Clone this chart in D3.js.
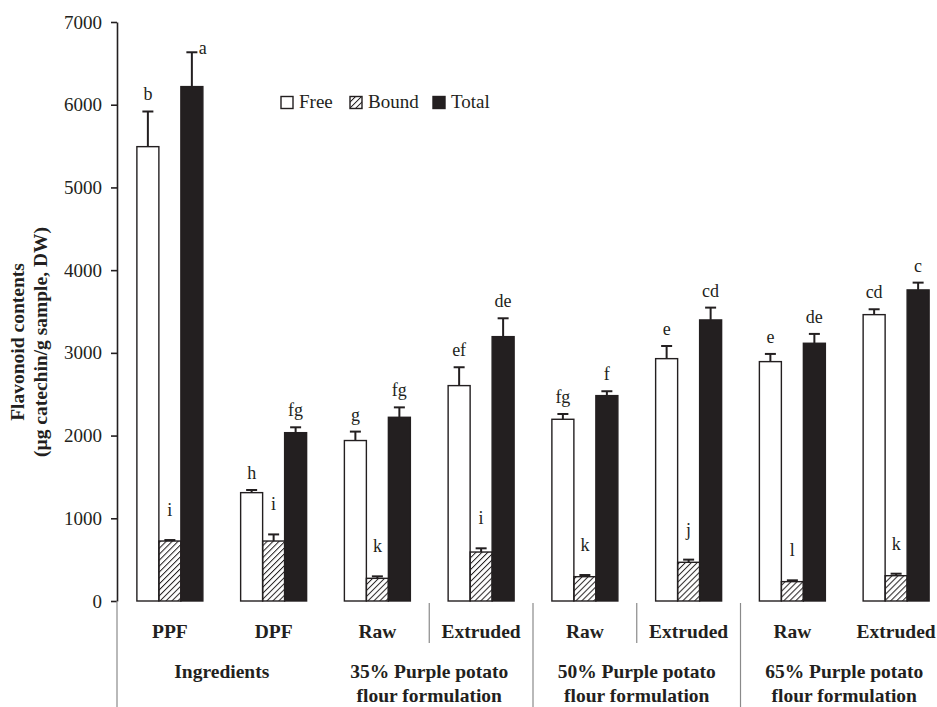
<!DOCTYPE html>
<html>
<head>
<meta charset="utf-8">
<script src="https://cdn.jsdelivr.net/npm/d3@7"></script>
<style>
  body { margin: 0; background: #fff; }
  text { font-family: "Liberation Serif", "Times New Roman", serif; fill: #231f20; }
</style>
</head>
<body>
<script>
// Data
const categories = ["PPF", "DPF", "Raw", "Extruded", "Raw", "Extruded", "Raw", "Extruded"];
const groupNames = [
    ["Ingredients"],
    ["35% Purple potato", "flour formulation"],
    ["50% Purple potato", "flour formulation"],
    ["65% Purple potato", "flour formulation"]
];
const seriesNames = ["Free", "Bound", "Total"];

const freeValues  = [5493, 1310, 1940, 2604, 2197, 2930, 2894, 3462];
const freeErr     = [425, 32, 108, 222, 64, 153, 93, 65];
const boundValues = [725, 725, 274, 592, 294, 468, 234, 306];
const boundErr    = [12, 80, 24, 45, 20, 32, 16, 24];
const totalValues = [6219, 2035, 2221, 3196, 2483, 3398, 3116, 3761];
const totalErr    = [415, 65, 120, 222, 53, 149, 113, 88];

const freeLetters  = ["b", "h", "g", "ef", "fg", "e", "e", "cd"];
const boundLetters = ["i", "i", "k", "i", "k", "j", "l", "k"];
const totalLetters = ["a", "fg", "fg", "de", "f", "cd", "de", "c"];

const yTicks = [0, 1000, 2000, 3000, 4000, 5000, 6000, 7000];

// Main
const svgwidth = 937;
const svgheight = 707;
const ink = "#231f20";
const grey = "#8a8a8a";

let svg = d3.select("body").append("svg")
    .attr("width", svgwidth)
    .attr("height", svgheight);

// hatch for the Bound bars
let defs = svg.append("defs");
defs.append("pattern")
    .attr("id", "hatch")
    .attr("patternUnits", "userSpaceOnUse")
    .attr("width", 4.2)
    .attr("height", 4.2)
    .attr("patternTransform", "rotate(45)")
  .append("line")
    .attr("x1", 0).attr("y1", 0)
    .attr("x2", 0).attr("y2", 4.2)
    .attr("stroke", ink)
    .attr("stroke-width", 2);

const axisX = 117;
let yScale = d3.scaleLinear().domain([0, 7000]).range([601, 22]);
let xScale = d3.scaleBand()
    .domain(d3.range(categories.length))
    .range([118, 948])
    .paddingInner(0.364)
    .paddingOuter(0.182);
let xSub = d3.scaleBand()
    .domain(seriesNames)
    .range([0, xScale.bandwidth()]);

let rows = categories.map((c, i) => [
    {series: "Free", value: freeValues[i], err: freeErr[i], letter: freeLetters[i], i: i},
    {series: "Bound", value: boundValues[i], err: boundErr[i], letter: boundLetters[i], i: i},
    {series: "Total", value: totalValues[i], err: totalErr[i], letter: totalLetters[i], i: i}
]).flat();

const fills = {Free: "#fff", Bound: "url(#hatch)", Total: ink};

let bars = svg.append("g");
bars.selectAll("rect")
    .data(rows).enter()
        .append("rect")
    .attr("x", d => xScale(d.i) + xSub(d.series))
    .attr("y", d => yScale(d.value))
    .attr("width", xSub.bandwidth())
    .attr("height", d => yScale(0) - yScale(d.value))
    .attr("fill", d => fills[d.series])
    .attr("stroke", ink)
    .attr("stroke-width", 1.4);

// error bars (upper only)
let errs = svg.append("g").attr("stroke", ink).attr("stroke-width", 2);
rows.forEach(d => {
    let cx = xScale(d.i) + xSub(d.series) + xSub.bandwidth() / 2;
    errs.append("line")
        .attr("x1", cx).attr("x2", cx)
        .attr("y1", yScale(d.value)).attr("y2", yScale(d.value + d.err));
    errs.append("line")
        .attr("x1", cx - 5.5).attr("x2", cx + 5.5)
        .attr("y1", yScale(d.value + d.err)).attr("y2", yScale(d.value + d.err));
});

// significance letters
svg.append("g").selectAll("text")
    .data(rows).enter()
        .append("text")
    .each(function(d) {
        let cx = xScale(d.i) + xSub(d.series) + xSub.bandwidth() / 2;
        let top = yScale(d.value + d.err);
        let sel = d3.select(this);
        if (top - 20 < 40) {
            // no room above the plot top: put it beside the cap
            sel.attr("x", cx + 7).attr("y", top + 2).attr("text-anchor", "start");
        } else {
            let gap = d.series === "Bound" ? 24 : 11;
            sel.attr("x", cx).attr("y", top - gap).attr("text-anchor", "middle");
        }
    })
    .style("font-size", "18px")
    .text(d => d.letter);

// y axis
let yAxis = svg.append("g")
    .attr("transform", `translate(${axisX},0)`)
    .call(d3.axisLeft(yScale).tickValues(yTicks).tickSize(6).tickSizeOuter(0).tickPadding(9).tickFormat(d3.format("d")));
yAxis.select(".domain").attr("stroke", ink).attr("stroke-width", 1.6);
yAxis.selectAll(".tick line").attr("stroke", ink).attr("stroke-width", 1.6);
yAxis.selectAll(".tick text")
    .style("font-family", "'Liberation Serif', serif")
    .style("font-size", "19px")
    .attr("fill", ink);

// y title
let yTitle = svg.append("text")
    .attr("transform", "translate(24,342) rotate(-90)")
    .attr("text-anchor", "middle")
    .style("font-size", "19.5px")
    .style("font-weight", "bold");
yTitle.append("tspan").attr("x", 0).attr("dy", 0).text("Flavonoid contents");
yTitle.append("tspan").attr("x", 0).attr("dy", 23).text("(\u00b5g catechin/g sample, DW)");

// category axis: no baseline, grey dividers below
let below = svg.append("g").attr("stroke", grey).attr("stroke-width", 1.2);
below.append("line")
    .attr("x1", axisX).attr("x2", axisX)
    .attr("y1", yScale(0)).attr("y2", svgheight);
const shortDividers = [3, 5];
const longDividers = [4, 6];
const edge = k => xScale(k) - xScale.step() * xScale.paddingInner() / 2;
shortDividers.forEach(k => below.append("line")
    .attr("x1", edge(k)).attr("x2", edge(k))
    .attr("y1", yScale(0) + 2).attr("y2", 643));
longDividers.forEach(k => below.append("line")
    .attr("x1", edge(k)).attr("x2", edge(k))
    .attr("y1", yScale(0) + 2).attr("y2", svgheight));

svg.append("g").selectAll("text")
    .data(categories).enter()
        .append("text")
    .attr("x", (d, i) => xScale(i) + xScale.bandwidth() / 2)
    .attr("y", 638)
    .attr("text-anchor", "middle")
    .style("font-size", "19.5px")
    .style("font-weight", "bold")
    .text(d => d);

groupNames.forEach((lines, g) => {
    let cx = (xScale(2 * g) + xScale(2 * g + 1) + xScale.bandwidth()) / 2;
    let t = svg.append("text")
        .attr("text-anchor", "middle")
        .style("font-size", "19.5px")
        .style("font-weight", "bold");
    lines.forEach((s, j) => t.append("tspan")
        .attr("x", cx)
        .attr("y", 678 + j * 24)
        .text(s));
});

// legend
const legendX = [281, 350, 433];
let legend = svg.append("g");
seriesNames.forEach((s, i) => {
    legend.append("rect")
        .attr("x", legendX[i]).attr("y", 96.5)
        .attr("width", 12).attr("height", 12)
        .attr("fill", fills[s])
        .attr("stroke", ink)
        .attr("stroke-width", 1.4);
    legend.append("text")
        .attr("x", legendX[i] + 18).attr("y", 108)
        .style("font-size", "19px")
        .text(s);
});
</script>
</body>
</html>
